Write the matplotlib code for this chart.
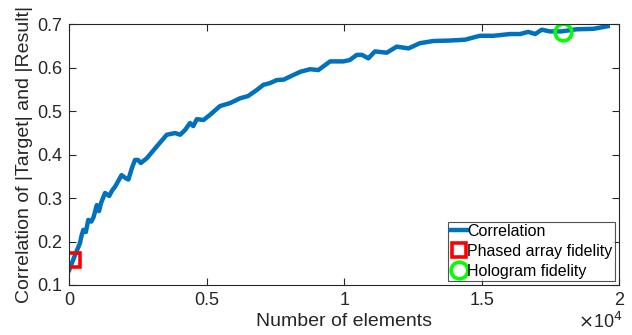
import matplotlib
matplotlib.use("Agg")
import matplotlib.pyplot as plt
import numpy as np

plt.rcParams['font.family'] = ['Liberation Sans', 'DejaVu Sans']

# Curve data (number of elements, correlation)
n_elements = [0, 207, 390, 450, 510, 600, 690, 800, 880, 1000, 1080, 1150, 1300, 1450,
              1560, 1660, 1900, 2050, 2150, 2280, 2390, 2500, 2600, 2820, 3180, 3545,
              3850, 4030, 4210, 4390, 4510, 4640, 4880, 5120, 5480, 5850, 6210, 6500,
              6820, 7060, 7300, 7550, 7800, 8030, 8400, 8760, 9060, 9490, 9970, 10200,
              10460, 10650, 10880, 11120, 11550, 11910, 12340, 12760, 13250, 13850,
              14400, 14940, 15430, 16040, 16400, 16700, 16950, 17190, 17490, 17900,
              18460, 19070, 19590]
correlation = [0.135, 0.169, 0.197, 0.215, 0.227, 0.222, 0.25, 0.246, 0.256, 0.284, 0.27,
               0.288, 0.312, 0.305, 0.318, 0.326, 0.353, 0.346, 0.343, 0.37, 0.388, 0.388,
               0.381, 0.392, 0.419, 0.446, 0.45, 0.446, 0.457, 0.473, 0.466, 0.482, 0.48,
               0.492, 0.512, 0.519, 0.53, 0.535, 0.549, 0.561, 0.565, 0.572, 0.573,
               0.58, 0.591, 0.597, 0.595, 0.615, 0.615, 0.618, 0.63, 0.63, 0.622, 0.638,
               0.635, 0.649, 0.645, 0.657, 0.662, 0.663, 0.665, 0.674, 0.674, 0.678,
               0.678, 0.683, 0.678, 0.688, 0.684, 0.684, 0.689, 0.69, 0.696]

phased_x = [150]
phased_y = [0.157]
holo_x = [17966]
holo_y = [0.683]

x_ticks = [0, 5000, 10000, 15000, 20000]
x_ticklabels = ['0', '0.5', '1', '1.5', '2']
y_ticks = [0.1, 0.2, 0.3, 0.4, 0.5, 0.6, 0.7]
y_ticklabels = ['0.1', '0.2', '0.3', '0.4', '0.5', '0.6', '0.7']

fig = plt.figure(figsize=(6.32, 3.35), dpi=100)
ax = fig.add_axes([0.1097, 0.1493, 0.8697, 0.7776])

ax.plot(n_elements, correlation, color='#0072BD', lw=3.2, label='Correlation',
        solid_joinstyle='round')
ax.plot(phased_x, phased_y, 's', ms=10.5, mfc='none', mec='#FF0000', mew=2.6,
        label='Phased array fidelity')
ax.plot(holo_x, holo_y, 'o', ms=12, mfc='none', mec='#00FF00', mew=2.6,
        label='Hologram fidelity')

ax.set_xlim(0, 20000)
ax.set_ylim(0.1, 0.7)
ax.set_xticks(x_ticks)
ax.set_xticklabels(x_ticklabels)
ax.set_yticks(y_ticks)
ax.set_yticklabels(y_ticklabels)

spine_col = '#262626'
for s in ax.spines.values():
    s.set_color(spine_col)
    s.set_linewidth(0.8)
ax.tick_params(direction='in', length=5, width=0.8, colors=spine_col, labelsize=13,
               top=True, right=True, labelcolor='#262626', pad=5)
ax.set_xlabel('Number of elements', fontsize=14, color='#262626', labelpad=3)
ax.set_ylabel('Correlation of |Target| and |Result|', fontsize=14, color='#262626',
              labelpad=3)

fig.text(0.915, 0.02, r'$\times$10$^4$', fontsize=13, color='#262626')

leg = ax.legend(loc='lower right', fontsize=11.5, frameon=True, fancybox=False,
                edgecolor='#262626', handlelength=1.0, handletextpad=0.05,
                borderpad=0.15, labelspacing=0.3, borderaxespad=0.25)
leg.get_frame().set_linewidth(0.8)

fig.savefig('out.png', dpi=100)
